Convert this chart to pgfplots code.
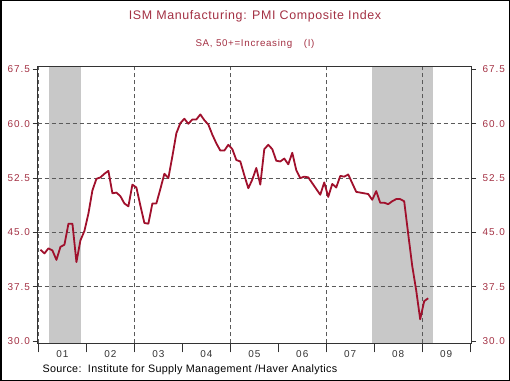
\documentclass[border=0pt]{standalone}
\usepackage{fontspec}
\setmainfont{Liberation Sans}
\usepackage{pgfplots}
\usepackage{pgfplotstable}
\pgfplotsset{compat=1.18}
\definecolor{ttl}{HTML}{A33043}
\definecolor{ln}{HTML}{A0102C}
\definecolor{rec}{HTML}{C8C8C8}
\definecolor{grd}{HTML}{5A5A5A}
\definecolor{frm}{HTML}{333333}

% month index i (0 = Jan 2001), PMI value
\pgfplotstableread{
i v
0 42.6
1 42.1
2 42.8
3 42.5
4 41.2
5 43.0
6 43.3
7 46.2
8 46.2
9 40.9
10 43.9
11 45.2
12 47.6
13 50.8
14 52.4
15 52.6
16 53.1
17 53.5
18 50.4
19 50.5
20 50.0
21 49.0
22 48.6
23 51.6
24 51.2
25 48.7
26 46.3
27 46.2
28 49.0
29 49.0
30 51.0
31 53.1
32 52.5
33 55.5
34 58.7
35 60.1
36 60.7
37 60.0
38 60.6
39 60.6
40 61.3
41 60.5
42 59.9
43 58.5
44 57.3
45 56.3
46 56.3
47 57.1
48 56.5
49 55.0
50 54.8
51 52.9
52 51.1
53 52.3
54 53.9
55 51.6
56 56.5
57 57.1
58 56.5
59 54.9
60 54.8
61 55.2
62 54.4
63 56.0
64 53.6
65 52.5
66 52.7
67 52.6
68 51.8
69 51.0
70 50.2
71 51.9
72 49.9
73 51.7
74 51.2
75 52.8
76 52.7
77 53.0
78 51.8
79 50.6
80 50.5
81 50.4
82 50.3
83 49.5
84 50.7
85 49.1
86 49.1
87 48.9
88 49.3
89 49.6
90 49.6
91 49.3
92 44.8
93 40.4
94 37.0
95 33.0
96 35.5
97 35.9
}\pmi

\pgfplotsset{
  chartaxis/.style={
    at={(37.5bp,37.7bp)}, anchor=south west,
    scale only axis, width=433.6bp, height=276.6bp,
    xmin=2000.98, xmax=2010.02, ymin=29.68, ymax=67.89,
    clip=false,
  },
}
\newcommand\tickfont{\fontsize{10}{12}\selectfont\addfontfeatures{LetterSpace=10}}

\begin{document}
\begin{tikzpicture}
\useasboundingbox (0bp,0bp) rectangle (510bp,381bp);
\draw[line width=1.5bp,black] (0.75bp,0.75bp) rectangle (509.25bp,380.25bp);
\node[ttl,font=\fontsize{12.5}{14}\selectfont\addfontfeatures{LetterSpace=5}] at (255bp,364.5bp) {ISM Manufacturing: PMI Composite Index};
\node[ttl,font=\fontsize{9.8}{11}\selectfont\addfontfeatures{LetterSpace=7}] at (255bp,337.5bp) {SA, 50+=Increasing\hspace{1.2em}(I)};
\node[black,anchor=west,font=\fontsize{10.8}{12}\selectfont\addfontfeatures{LetterSpace=3}] at (39bp,11bp) {Source:\hspace{0.6em}Institute for Supply Management /Haver Analytics};

% main axis: data, shading, grid, x ticks
\begin{axis}[chartaxis,
  axis line style={frm,line width=0.8bp},
  xtick={2001,2002,...,2010}, xticklabels={},
  minor x tick num=11,
  xtick pos=left, tick align=outside,
  major tick length=9bp, minor tick length=3bp,
  major tick style={frm,line width=0.8bp},
  minor tick style={frm,line width=0.6bp,yshift=3bp},
  ytick=\empty,
]
\addplot[fill=rec,draw=none] coordinates {(2001.225,29.68) (2001.225,67.89) (2001.886,67.89) (2001.886,29.68)} -- cycle;
\addplot[fill=rec,draw=none] coordinates {(2007.959,29.68) (2007.959,67.89) (2009.218,67.89) (2009.218,29.68)} -- cycle;
% dashed grid
\pgfplotsinvokeforeach{37.5,45,52.5,60}{
  \addplot[grd,line width=0.8bp,dash pattern=on 4bp off 3bp] coordinates {(2000.98,#1) (2010.02,#1)};
}
\pgfplotsinvokeforeach{2001,2003,2005,2007,2009}{
  \addplot[grd,line width=0.8bp,dash pattern=on 4bp off 3bp] coordinates {(#1,29.68) (#1,67.89)};
}
\addplot[ln,line width=1.8bp,line join=round] table[x expr={2001+(\thisrow{i}+0.5)/12}, y=v] {\pmi};
% year labels
\pgfplotsinvokeforeach{1,2,3,4,5,6,7,8,9}{
  \node[black!80,font=\tickfont] at (axis cs:200#1.5,29.68) [yshift=-10.7bp] {0#1};
}
\end{axis}

% left frame, ticks and labels
\begin{axis}[chartaxis,
  axis line style={frm,line width=0.8bp},
  xtick=\empty,
  ytick={30,37.5,45,52.5,60,67.5},
  yticklabels={30.0,37.5,45.0,52.5,60.0,67.5},
  ytick pos=left, yticklabel pos=left, tick align=outside,
  major tick length=5bp,
  major tick style={frm,line width=0.8bp},
  yticklabel style={ttl,font=\tickfont,xshift=1bp},
]
\end{axis}

% right ticks and labels
\begin{axis}[chartaxis,
  axis line style={draw=none},
  xtick=\empty,
  ytick={30,37.5,45,52.5,60,67.5},
  yticklabels={30.0,37.5,45.0,52.5,60.0,67.5},
  ytick pos=right, yticklabel pos=right, tick align=outside,
  major tick length=5bp,
  major tick style={frm,line width=0.8bp},
  yticklabel style={ttl,font=\tickfont,xshift=3bp},
]
\end{axis}
\end{tikzpicture}
\end{document}
